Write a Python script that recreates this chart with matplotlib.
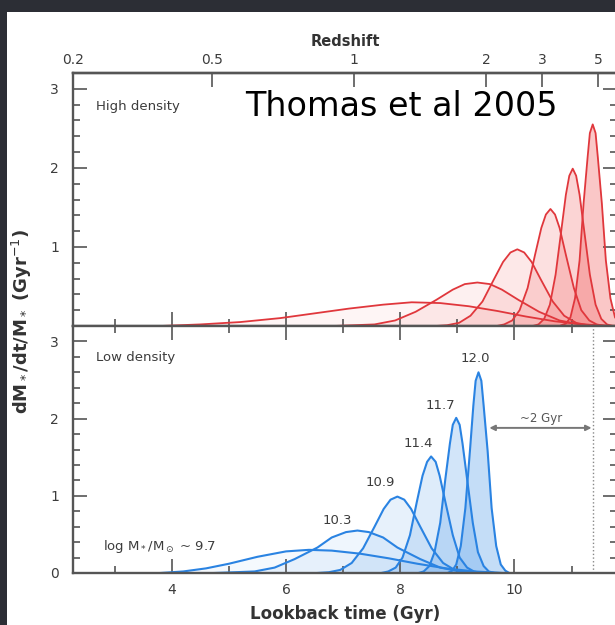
import matplotlib.pyplot as plt
from matplotlib.patches import Rectangle
from matplotlib.ticker import MultipleLocator

# high density environment (red), lookback time in Gyr vs dM*/dt/M*
red_t = [
    [3.8, 4.5, 5.2, 5.9, 6.5, 7.1, 7.7, 8.2, 8.7, 9.2, 9.7, 10.2, 10.7, 11.2, 11.6],
    [6.83, 7.19, 7.55, 7.91, 8.27, 8.63, 8.92, 9.13, 9.35, 9.57, 9.78, 10.07, 10.43, 10.79, 11.15, 11.51, 11.87],
    [8.62, 8.82, 9.03, 9.23, 9.44, 9.64, 9.80, 9.93, 10.05, 10.17, 10.30, 10.46, 10.67, 10.87, 11.08, 11.28, 11.49],
    [9.69, 9.82, 9.96, 10.09, 10.23, 10.36, 10.47, 10.55, 10.63, 10.71, 10.79, 10.90, 11.04, 11.17, 11.31, 11.44, 11.58],
    [10.32, 10.42, 10.52, 10.62, 10.72, 10.82, 10.90, 10.96, 11.02, 11.08, 11.14, 11.22, 11.32, 11.42, 11.52, 11.62, 11.72],
    [10.82, 10.90, 10.98, 11.06, 11.14, 11.21, 11.28, 11.32, 11.37, 11.42, 11.46, 11.53, 11.60, 11.68, 11.76, 11.84, 11.92],
]
red_sfr = [
    [0.00, 0.02, 0.05, 0.10, 0.16, 0.22, 0.27, 0.30, 0.29, 0.25, 0.19, 0.12, 0.06, 0.02, 0.00],
    [0.00, 0.01, 0.02, 0.07, 0.18, 0.33, 0.46, 0.53, 0.55, 0.53, 0.46, 0.33, 0.18, 0.07, 0.02, 0.01, 0.00],
    [0.00, 0.01, 0.04, 0.13, 0.31, 0.59, 0.81, 0.93, 0.97, 0.93, 0.81, 0.59, 0.31, 0.13, 0.04, 0.01, 0.00],
    [0.00, 0.02, 0.07, 0.20, 0.48, 0.90, 1.24, 1.41, 1.48, 1.41, 1.24, 0.90, 0.48, 0.20, 0.07, 0.02, 0.00],
    [0.00, 0.02, 0.09, 0.27, 0.65, 1.21, 1.66, 1.90, 1.99, 1.90, 1.66, 1.21, 0.65, 0.27, 0.09, 0.02, 0.00],
    [0.01, 0.03, 0.11, 0.35, 0.83, 1.55, 2.13, 2.44, 2.55, 2.44, 2.13, 1.55, 0.83, 0.35, 0.11, 0.03, 0.01],
]

# low density environment (blue)
blue_t = [
    [3.8, 4.2, 4.6, 5.0, 5.5, 6.0, 6.4, 6.8, 7.3, 7.8, 8.3, 8.8, 9.3, 9.8],
    [4.75, 5.1, 5.45, 5.8, 6.15, 6.55, 6.8, 7.05, 7.25, 7.45, 7.7, 7.95, 8.35, 8.7, 9.05, 9.4, 9.75],
    [6.55, 6.75, 6.95, 7.15, 7.35, 7.55, 7.71, 7.83, 7.95, 8.07, 8.19, 8.35, 8.55, 8.75, 8.95, 9.15, 9.35],
    [7.67, 7.79, 7.92, 8.04, 8.17, 8.29, 8.39, 8.47, 8.54, 8.62, 8.69, 8.79, 8.92, 9.04, 9.17, 9.29, 9.42],
    [8.32, 8.41, 8.51, 8.60, 8.70, 8.79, 8.87, 8.92, 8.98, 9.04, 9.09, 9.17, 9.27, 9.36, 9.46, 9.55, 9.65],
    [8.83, 8.91, 8.98, 9.06, 9.14, 9.22, 9.28, 9.32, 9.37, 9.42, 9.46, 9.53, 9.60, 9.68, 9.76, 9.84, 9.91],
]
blue_sfr = [
    [0.00, 0.02, 0.06, 0.12, 0.21, 0.28, 0.30, 0.29, 0.25, 0.19, 0.12, 0.06, 0.02, 0.00],
    [0.00, 0.01, 0.02, 0.07, 0.18, 0.33, 0.46, 0.53, 0.55, 0.53, 0.46, 0.33, 0.18, 0.07, 0.02, 0.01, 0.00],
    [0.00, 0.01, 0.04, 0.13, 0.32, 0.60, 0.83, 0.95, 0.99, 0.95, 0.83, 0.60, 0.32, 0.13, 0.04, 0.01, 0.00],
    [0.00, 0.02, 0.07, 0.20, 0.49, 0.92, 1.26, 1.44, 1.51, 1.44, 1.26, 0.92, 0.49, 0.20, 0.07, 0.02, 0.00],
    [0.00, 0.02, 0.09, 0.27, 0.65, 1.22, 1.68, 1.92, 2.01, 1.92, 1.68, 1.22, 0.65, 0.27, 0.09, 0.02, 0.00],
    [0.00, 0.03, 0.11, 0.35, 0.84, 1.58, 2.17, 2.49, 2.60, 2.49, 2.17, 1.58, 0.84, 0.35, 0.11, 0.03, 0.00],
]
mass_labels = ['log M$_*$/M$_\\odot$ ~ 9.7', '10.3', '10.9', '11.4', '11.7', '12.0']
label_t = [2.8, 6.9, 7.65, 8.32, 8.70, 9.32]
label_sfr = [0.34, 0.68, 1.17, 1.68, 2.17, 2.78]

# redshift ticks placed at their lookback times
z_labels = ['0.2', '0.5', '1', '2', '3', '5']
z_t = [2.27, 4.70, 7.19, 9.51, 10.49, 11.46]

fill_alpha = [0.05, 0.08, 0.12, 0.17, 0.23, 0.30]
t_lim = (2.27, 11.8)
sfr_lim = (0, 3.2)

plt.rcParams['font.family'] = ['DejaVu Sans']
plt.rcParams['mathtext.fontset'] = 'dejavusans'
AX_COL = '#555555'
TXT_COL = '#3c3c3c'

fig = plt.figure(figsize=(6.15, 6.25), dpi=100)
fig.patch.set_facecolor('#2c2e35')
fig.add_artist(Rectangle((7 / 615, 0), 1, 1 - 12 / 625, transform=fig.transFigure,
                         facecolor='white', edgecolor='none', zorder=-1))

ax_up = fig.add_axes([0.1187, 0.4784, 0.885, 0.4048])
ax_lo = fig.add_axes([0.1187, 0.0832, 0.885, 0.3952])

for ax in (ax_up, ax_lo):
    ax.set_xlim(*t_lim)
    ax.set_ylim(*sfr_lim)
    ax.xaxis.set_major_locator(MultipleLocator(2))
    ax.xaxis.set_minor_locator(MultipleLocator(1))
    ax.yaxis.set_major_locator(MultipleLocator(1))
    ax.yaxis.set_minor_locator(MultipleLocator(0.2))
    ax.tick_params(which='both', direction='in', left=True, right=True, top=True, bottom=True,
                   color=AX_COL, width=1.2, labelsize=10, labelcolor=TXT_COL)
    ax.tick_params(which='major', length=10)
    ax.tick_params(which='minor', length=5)
    ax.tick_params(axis='y', pad=10)
    ax.tick_params(axis='x', pad=7)
    for sp in ax.spines.values():
        sp.set_color(AX_COL)
        sp.set_linewidth(1.7)

# upper panel
for i, (t, s) in enumerate(zip(red_t, red_sfr)):
    ax_up.fill_between(t, s, 0, color='#f04848', alpha=fill_alpha[i], linewidth=0)
    ax_up.plot(t, s, color='#e0373c', lw=1.3)
ax_up.tick_params(which='both', top=False, labelbottom=False)
ax_up.set_yticks([1, 2, 3])
ax_up.yaxis.set_minor_locator(MultipleLocator(0.2))
sec = ax_up.secondary_xaxis('top')
sec.set_xticks(z_t, labels=z_labels)
sec.tick_params(direction='in', length=10, color=AX_COL, width=1.2, labelsize=10,
                labelcolor=TXT_COL, pad=4)
sec.spines['top'].set_color(AX_COL)
sec.spines['top'].set_linewidth(1.7)
sec.set_xlabel('Redshift', fontsize=10.5, fontweight='bold', color='#333333', labelpad=5)
ax_up.text(2.67, 2.77, 'High density', fontsize=9.5, color=TXT_COL, va='center')
ax_up.text(5.28, 2.77, 'Thomas et al 2005', fontsize=24, color='black', va='center')

# lower panel
for i, (t, s) in enumerate(zip(blue_t, blue_sfr)):
    ax_lo.fill_between(t, s, 0, color='#3d8fe6', alpha=fill_alpha[i], linewidth=0)
    ax_lo.plot(t, s, color='#2a83e2', lw=1.5)
for i, lab in enumerate(mass_labels):
    ax_lo.text(label_t[i], label_sfr[i], lab, fontsize=9.5, color=TXT_COL,
               ha='left' if i == 0 else 'center', va='center')
ax_lo.text(2.67, 2.79, 'Low density', fontsize=9.5, color=TXT_COL, va='center')
ax_lo.axvline(11.37, color='#888888', lw=1.0, ls=':')
ax_lo.annotate('', xy=(9.56, 1.88), xytext=(11.35, 1.88),
               arrowprops=dict(arrowstyle='<|-|>', color='#777777', lw=1.4,
                               mutation_scale=8, shrinkA=0, shrinkB=0))
ax_lo.text(10.47, 2.0, '~2 Gyr', fontsize=8.5, color='#555555', ha='center', va='center')
ax_lo.set_xlabel('Lookback time (Gyr)', fontsize=12, fontweight='bold', color='#333333',
                 labelpad=6)

fig.text(22 / 615, 1 - 322 / 625, 'dM$_*$/dt/M$_*$ (Gyr$^{-1}$)', rotation=90,
         ha='center', va='center', fontsize=13, fontweight='bold', color='#333333')

fig.savefig('out.png', dpi=100, facecolor=fig.get_facecolor())
